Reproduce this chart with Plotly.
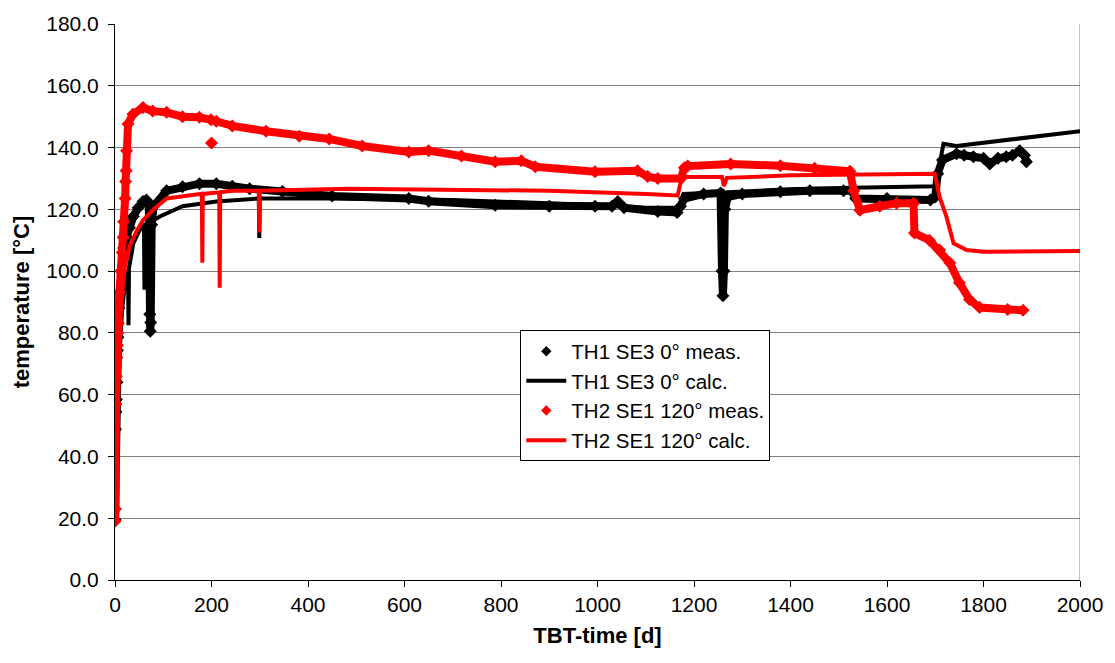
import plotly.graph_objects as go

# ---- TH1 SE3 0° measured (black diamonds) ----
th1_meas_day = [0, 1, 2, 3, 4, 5, 6, 8, 10, 14, 18, 24, 30, 38, 48, 58, 65, 70, 72, 73, 74, 76, 80,
                107, 140, 175, 210, 243, 279, 347, 450, 609, 650, 788, 900, 995, 1030, 1042, 1055,
                1125, 1165, 1172, 1180, 1220, 1255, 1258, 1260, 1262, 1264, 1270, 1300, 1379, 1440,
                1510, 1527, 1535, 1600, 1690, 1700, 1705, 1715, 1744, 1760, 1779, 1800, 1813, 1830,
                1847, 1860, 1875, 1885, 1889]
th1_meas_temp = [19.5, 48.8, 54.5, 58.4, 64.0, 74.4, 78.6, 88.0, 93.0, 100.0, 107.5, 111.0, 114.0, 117.7,
                 120.5, 122.5, 123.0, 122.0, 86.0, 80.5, 83.4, 115.0, 121.0,
                 126.0, 127.3, 128.3, 128.3, 127.5, 126.7, 125.8, 124.3, 123.5, 122.6, 121.3, 121.0,
                 121.0, 121.0, 122.5, 120.5, 119.3, 119.0, 121.0, 123.5, 125.0, 125.3, 100.0, 92.0,
                 100.0, 120.0, 124.0, 125.0, 125.7, 126.0, 126.0, 126.0, 123.5, 123.5, 123.0, 124.0,
                 131.5, 136.0, 138.0, 137.5, 137.0, 136.5, 134.7, 136.5, 137.0, 137.5, 139.0, 137.5,
                 135.4]

# ---- TH1 SE3 0° calculated (black line) ----
th1_calc_day = [0, 3, 6, 10, 15, 20, 27, 28, 29, 38, 50, 60, 61, 62, 80, 93, 140, 210, 298, 299, 300,
                450, 700, 900, 1100, 1168, 1178, 1258, 1261, 1264, 1400, 1527, 1700, 1712, 1717, 1744,
                2000]
th1_calc_temp = [20.0, 40.0, 60.0, 75.0, 88.0, 95.0, 100.0, 82.5, 101.0, 109.0, 113.0, 114.8, 94.0,
                 115.0, 116.5, 117.7, 121.0, 122.5, 123.5, 110.7, 123.5, 123.5, 123.0, 122.0, 120.5,
                 120.5, 125.0, 125.5, 123.0, 125.5, 126.5, 127.0, 127.5, 137.0, 141.2, 140.5, 145.3]

# ---- TH2 SE1 120° measured (red diamonds) ----
th2_meas_day = [0, 1, 2, 3, 4, 5, 6, 7, 9, 12, 15, 17, 18, 21, 22, 23, 24, 27, 37, 58, 78, 107, 140,
                175, 199, 210, 243, 313, 382, 444, 512, 609, 650, 718, 788, 842, 871, 995, 1083, 1104,
                1125, 1173, 1180, 1187, 1276, 1379, 1450, 1523, 1531, 1544, 1585, 1620, 1655, 1657,
                1688, 1709, 1730, 1750, 1771, 1792, 1850, 1882]
th2_meas_temp = [19.0, 23.0, 57.0, 66.0, 72.0, 76.0, 80.0, 83.0, 93.0, 100.0, 106.0, 111.0, 116.0,
                 123.5, 129.0, 132.5, 139.0, 147.6, 150.8, 153.0, 151.8, 151.4, 150.0, 149.8, 149.0,
                 148.5, 147.0, 145.3, 143.7, 142.8, 140.5, 138.6, 139.0, 137.3, 135.4, 135.7, 133.8,
                 132.2, 132.5, 130.6, 130.0, 130.0, 133.5, 134.0, 134.7, 134.1, 133.3, 132.3, 126.0,
                 119.7, 121.0, 122.0, 122.0, 112.3, 110.0, 106.8, 102.7, 96.2, 90.8, 88.2, 87.6, 87.3]
# isolated measured points lying off the main band
th2_meas_single_day = [200]
th2_meas_single_temp = [141.5]

# ---- TH2 SE1 120° calculated (red line) ----
th2_calc_day = [0, 3, 6, 10, 15, 20, 30, 45, 58, 80, 107, 150, 180, 181, 182, 216, 217, 218, 243, 298,
                299, 300, 485, 700, 900, 1100, 1166, 1175, 1258, 1262, 1268, 1400, 1600, 1699, 1709,
                1723, 1738, 1765, 1800, 2000]
th2_calc_temp = [20.0, 45.0, 70.0, 85.0, 95.0, 101.0, 108.0, 113.0, 116.5, 120.0, 123.5, 124.5, 125.0,
                 102.7, 125.0, 125.5, 94.6, 125.5, 126.0, 126.0, 112.5, 126.0, 126.7, 126.5, 126.0,
                 125.0, 124.5, 130.5, 130.5, 127.5, 130.2, 131.0, 131.3, 131.5, 124.0, 117.7, 109.0,
                 106.8, 106.3, 106.5]

x_ticks = list(range(0, 2001, 200))
y_ticks = list(range(0, 181, 20))

FONT = "Liberation Sans, Arial, sans-serif"
BLACK = "#000000"
RED = "#ff0000"

fig = go.Figure()

fig.add_trace(go.Scatter(x=th1_meas_day, y=th1_meas_temp, mode="lines+markers",
                         line=dict(color=BLACK, width=8),
                         marker=dict(symbol="diamond", size=10, color=BLACK),
                         showlegend=False))
fig.add_trace(go.Scatter(x=th1_calc_day, y=th1_calc_temp, mode="lines",
                         line=dict(color=BLACK, width=4), showlegend=False))
fig.add_trace(go.Scatter(x=th2_meas_day, y=th2_meas_temp, mode="lines+markers",
                         line=dict(color=RED, width=8),
                         marker=dict(symbol="diamond", size=10, color=RED),
                         showlegend=False))
fig.add_trace(go.Scatter(x=th2_meas_single_day, y=th2_meas_single_temp, mode="markers",
                         marker=dict(symbol="diamond", size=10, color=RED),
                         showlegend=False))
fig.add_trace(go.Scatter(x=th2_calc_day, y=th2_calc_temp, mode="lines",
                         line=dict(color=RED, width=4), showlegend=False))

# legend entries
fig.add_trace(go.Scatter(x=[None], y=[None], mode="markers", name="TH1 SE3 0° meas.",
                         marker=dict(symbol="diamond", size=8, color=BLACK)))
fig.add_trace(go.Scatter(x=[None], y=[None], mode="lines", name="TH1 SE3 0° calc.",
                         line=dict(color=BLACK, width=4)))
fig.add_trace(go.Scatter(x=[None], y=[None], mode="markers", name="TH2 SE1 120° meas.",
                         marker=dict(symbol="diamond", size=8, color=RED)))
fig.add_trace(go.Scatter(x=[None], y=[None], mode="lines", name="TH2 SE1 120° calc.",
                         line=dict(color=RED, width=4)))

fig.update_layout(
    width=1115, height=663,
    margin=dict(l=115, r=31, t=19, b=83),
    paper_bgcolor="white", plot_bgcolor="white",
    font=dict(family=FONT, size=21, color="black"),
    showlegend=True,
    legend=dict(x=0.42, y=0.449, xanchor="left", yanchor="top",
                bgcolor="white", bordercolor="black", borderwidth=1,
                font=dict(family=FONT, size=20.5, color="black"),
                tracegroupgap=0, itemwidth=40),
)

fig.update_xaxes(range=[0, 2000], tickvals=x_ticks, ticktext=[str(v) for v in x_ticks],
                 showgrid=False, zeroline=False, showline=True, linecolor="black", linewidth=1,
                 ticks="outside", ticklen=6, tickcolor="black",
                 title=dict(text="<b>TBT-time [d]</b>", font=dict(family=FONT, size=22), standoff=12))
fig.update_yaxes(range=[0, 180], tickvals=y_ticks, ticktext=[f"{v:.1f}" for v in y_ticks],
                 showgrid=True, gridcolor="#808080", gridwidth=1, zeroline=False,
                 showline=True, linecolor="black", linewidth=1,
                 ticks="outside", ticklen=6, tickcolor="black", ticklabelstandoff=5,
                 title=dict(text="<b>temperature [°C]</b>", font=dict(family=FONT, size=22), standoff=10))

fig.add_shape(type="line", xref="x", yref="paper", x0=2000, x1=2000, y0=0, y1=1,
              line=dict(color="#808080", width=1), layer="below")

fig.write_html("out.html")
